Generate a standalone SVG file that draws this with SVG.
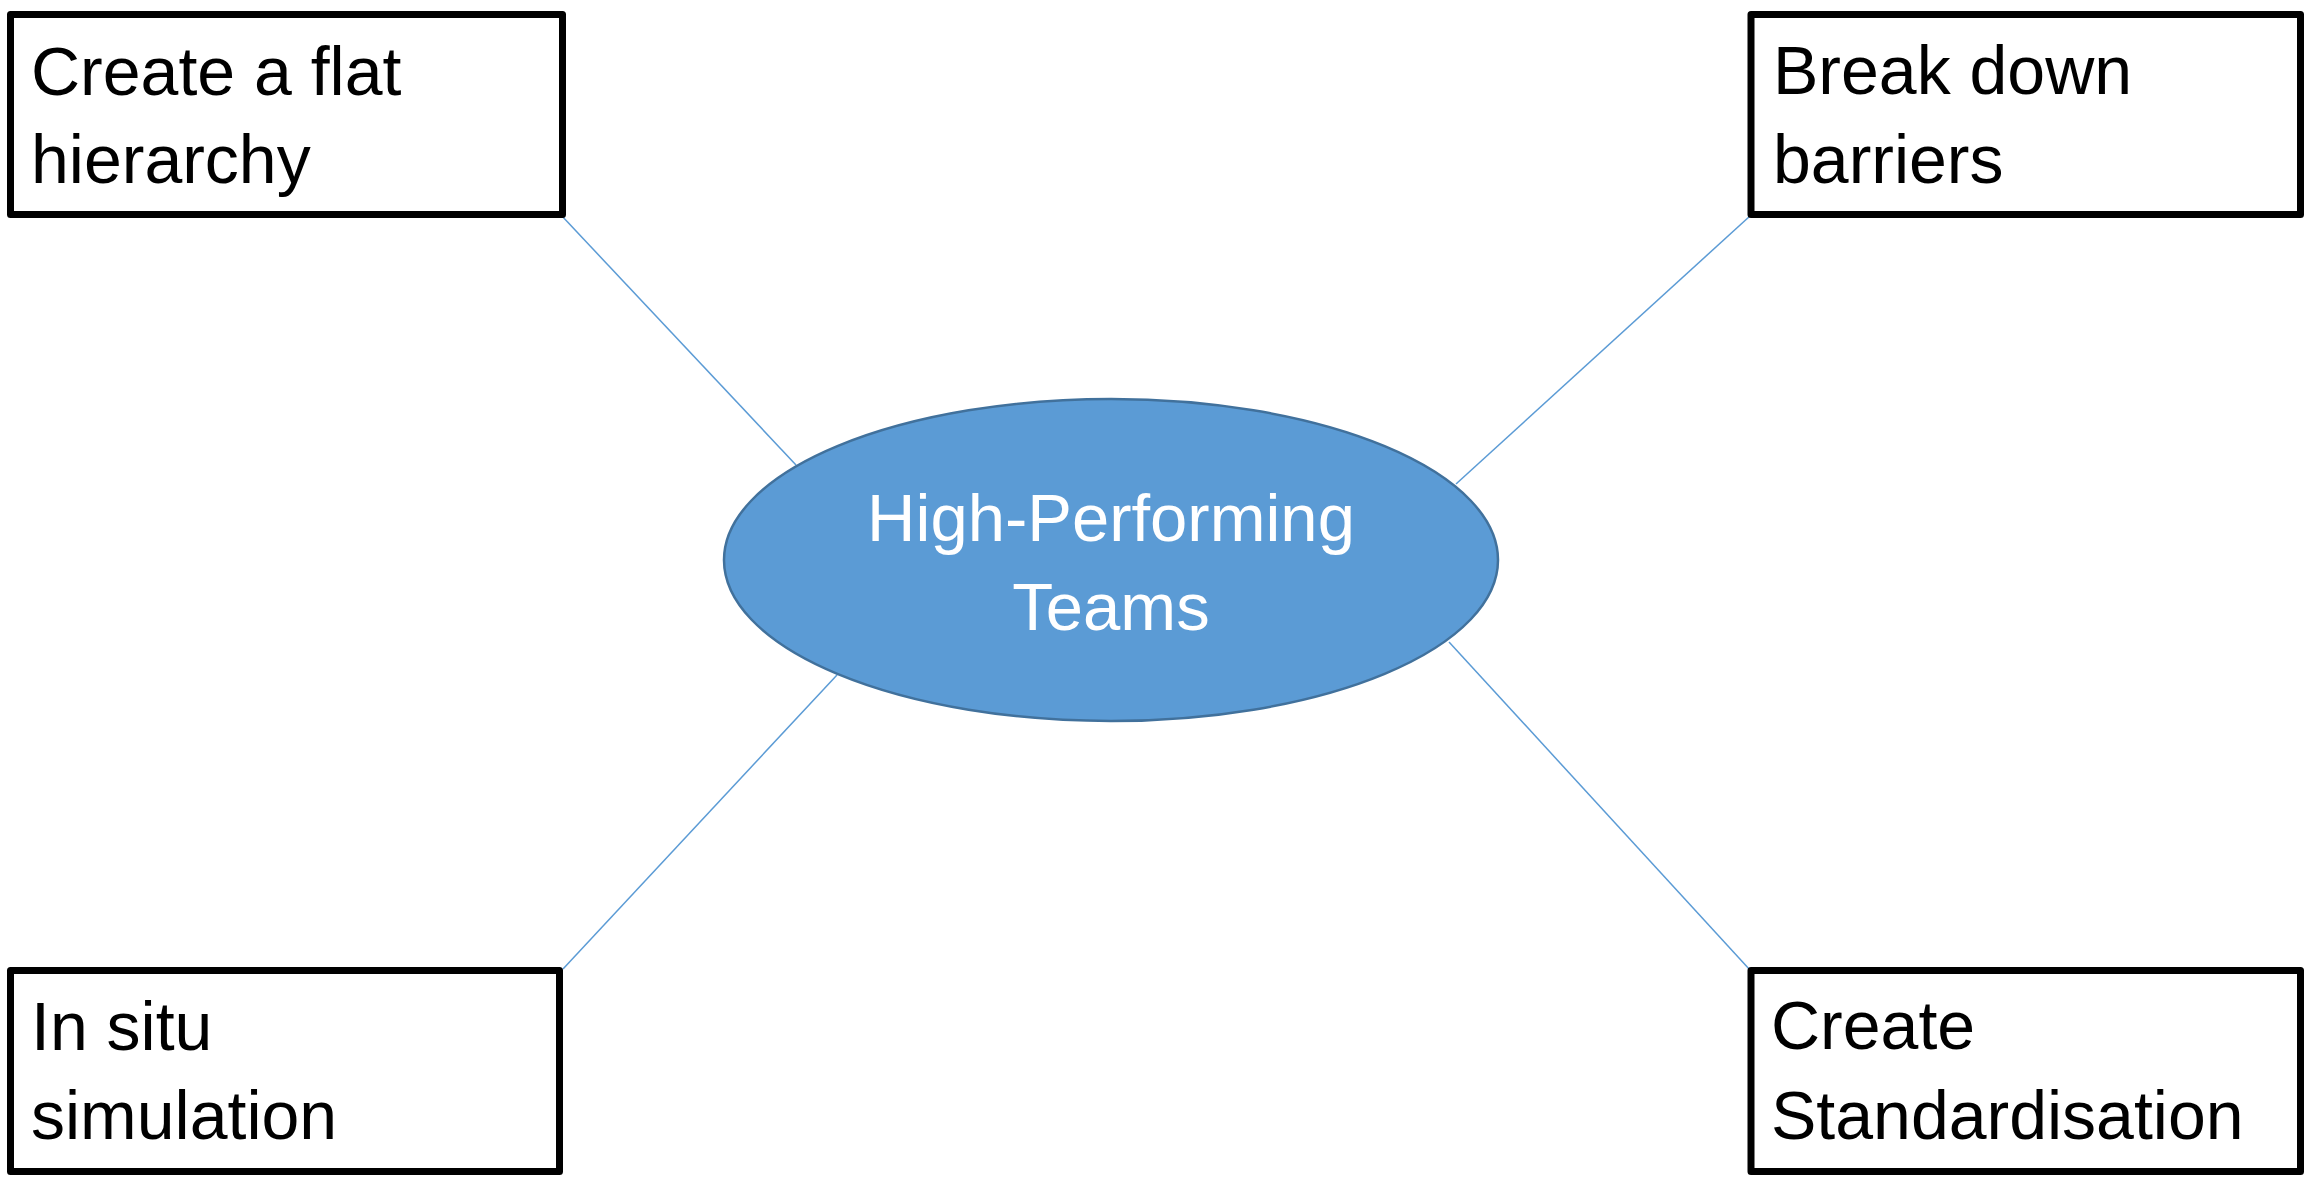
<svg xmlns="http://www.w3.org/2000/svg" width="2305" height="1181" viewBox="0 0 2305 1181">
<style>
.box{fill:#fff;stroke:#000;stroke-width:7;stroke-linejoin:round}
.lbl{font-family:"Liberation Sans",Arial,sans-serif;font-size:68px;fill:#000}
.ctr{font-family:"Liberation Sans",Arial,sans-serif;font-size:67px;fill:#fff;text-anchor:middle}
.conn{stroke:#5B9BD5;stroke-width:1.5;fill:none}
</style>
<rect width="2305" height="1181" fill="#fff"/>
<g id="connectors">
<line class="conn" x1="561" y1="215" x2="796" y2="465"/>
<line class="conn" x1="1750" y1="216" x2="1456" y2="484"/>
<line class="conn" x1="837" y1="675" x2="563" y2="969"/>
<line class="conn" x1="1449" y1="642" x2="1750" y2="970"/>
</g>
<g id="center">
<ellipse cx="1111" cy="560" rx="387" ry="161" fill="#5B9BD5" stroke="#41719C" stroke-width="2.5"/>
<text class="ctr" x="1111" y="541">High-Performing</text>
<text class="ctr" x="1111" y="630">Teams</text>
</g>
<g id="flat-hierarchy">
<rect class="box" x="10.5" y="14.5" width="552" height="200"/>
<text class="lbl" x="31" y="95">Create a flat</text>
<text class="lbl" x="31" y="183">hierarchy</text>
</g>
<g id="break-barriers">
<rect class="box" x="1751" y="14.5" width="549.5" height="200"/>
<text class="lbl" x="1773" y="94">Break down</text>
<text class="lbl" x="1773" y="183">barriers</text>
</g>
<g id="in-situ">
<rect class="box" x="10.5" y="970.5" width="549" height="201"/>
<text class="lbl" x="31" y="1050">In situ</text>
<text class="lbl" x="31" y="1139">simulation</text>
</g>
<g id="standardisation">
<rect class="box" x="1751" y="970.5" width="549.5" height="201"/>
<text class="lbl" x="1771" y="1049">Create</text>
<text class="lbl" x="1771" y="1139">Standardisation</text>
</g>
</svg>
